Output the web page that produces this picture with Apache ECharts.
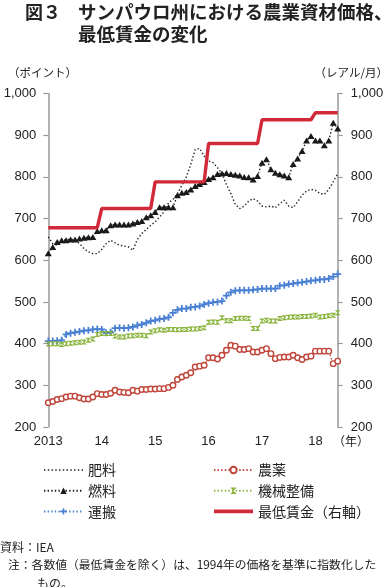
<!DOCTYPE html>
<html><head><meta charset="utf-8">
<script src="https://cdn.jsdelivr.net/npm/echarts@6/dist/echarts.min.js"></script>
<style>html,body{margin:0;padding:0;background:#fff}#c{width:392px;height:587px}</style>
</head><body><div id="c"></div>
<script>
// ---- data ----
const yearLabels = ['2013','14','15','16','17','18'];
const firstYear = 2013;
const monthCount = 66; // Jan 2013 - Jun 2018
const yTicks = [200,300,400,500,600,700,800,900,1000];

const seriesNames = ['肥料','燃料','運搬','農薬','機械整備','最低賃金（右軸）'];

const fertilizer = [656,640,636,644,650,650,648,640,628,620,616,616,626,640,648,642,636,634,632,624,
  650,664,674,684,692,704,716,738,746,760,780,800,830,866,868,850,838,834,822,808,
  782,760,734,724,730,742,748,742,730,728,730,726,736,744,730,726,740,756,766,770,
  768,760,758,770,788,808];
const fuel = [617,632,644,648,648,650,650,652,654,655,656,670,672,672,684,686,686,686,686,688,
  692,694,703,708,716,727,727,727,727,756,762,764,770,778,783,788,795,799,807,808,
  809,807,805,803,800,799,794,802,834,842,818,810,806,803,799,831,844,862,887,898,
  887,887,876,887,930,916];
const transport = [406,406,407,408,422,425,427,429,431,432,434,435,434,426,427,437,438,437,438,440,
  444,446,450,454,456,459,460,463,474,481,484,484,487,488,490,494,497,499,500,502,
  515,523,527,528,528,528,529,530,532,532,532,532,539,540,543,544,546,547,549,551,
  552,554,554,556,561,567];
const pesticide = [258,261,266,268,272,274,274,270,267,267,272,280,278,278,281,288,284,283,282,288,
  286,290,290,291,291,292,292,295,300,314,320,324,330,344,346,348,366,366,363,372,
  384,396,394,386,386,388,380,380,384,388,376,364,367,368,368,372,366,362,368,370,
  382,382,382,382,352,358];
const machinery = [399,400,400,398,400,401,402,403,404,408,411,422,424,424,424,418,416,416,418,419,
  420,420,419,428,431,433,432,434,434,433,434,434,435,435,436,438,451,452,451,462,
  455,455,460,461,461,460,436,436,454,456,454,454,460,462,463,464,464,465,465,466,
  468,464,465,467,468,474];
const minWage = [678,678,678,678,678,678,678,678,678,678,678,678,
  724,724,724,724,724,724,724,724,724,724,724,724,
  788,788,788,788,788,788,788,788,788,788,788,788,
  880,880,880,880,880,880,880,880,880,880,880,880,
  937,937,937,937,937,937,937,937,937,937,937,937,
  954,954,954,954,954,954];

// ---- categories (months) ----
const months = [];
for (let i = 0; i < monthCount; i++) months.push((firstYear + Math.floor(i/12)) + '-' + (i%12+1));

const JP = '"Noto Sans CJK JP"';
const NUM = '"Liberation Sans", Arial, sans-serif';

// legend icon paths (dotted line / thick line)
let dotPath = 'path://';
for (let k = 0; k < 11; k++) dotPath += 'M' + (k*3.6) + ',0h1.4v1.4h-1.4z';
const thickPath = 'path://M0,0H39V3.6H0Z';

const chart = echarts.init(document.getElementById('c'), null, {renderer:'canvas'});

const dotted = (c) => ({color:c, width:1.4, type:[1.4,2.2]});

chart.setOption({
  animation:false,
  backgroundColor:'#fff',
  grid:{left:48.3, right:54.3, top:93.5, bottom:160, containLabel:false},
  xAxis:{
    type:'category', data:months, boundaryGap:false,
    axisLine:{show:false}, axisTick:{show:false}, splitLine:{show:false},
    axisLabel:{
      interval:(idx)=> idx%12===0,
      formatter:(v, idx)=> yearLabels[Math.floor(idx/12)] || '',
      color:'#222', fontFamily:NUM, fontSize:13, margin:8
    }
  },
  yAxis:[
    {type:'value', position:'left', min:200, max:1000, interval:100,
     axisLine:{show:true, lineStyle:{color:'#999', width:1.5}},
     axisTick:{show:true, length:5, inside:false, lineStyle:{color:'#999', width:1.2}},
     splitLine:{show:false},
     axisLabel:{color:'#222', fontFamily:NUM, fontSize:13, margin:12,
       formatter:(v)=> echarts.format.addCommas(v)}},
    {type:'value', position:'right', min:200, max:1000, interval:100,
     axisLine:{show:true, lineStyle:{color:'#999', width:1.5}},
     axisTick:{show:true, length:5, inside:false, lineStyle:{color:'#999', width:1.2}},
     splitLine:{show:false},
     axisLabel:{color:'#222', fontFamily:NUM, fontSize:13, margin:13,
       formatter:(v)=> echarts.format.addCommas(v)}}
  ],
  legend:[
    {data:[{name:seriesNames[0], icon:dotPath}, seriesNames[1], seriesNames[2]],
     orient:'vertical', left:43, top:463, symbolKeepAspect:true,
     itemWidth:39, itemHeight:8, itemGap:6.7, padding:0,
     textStyle:{fontFamily:JP, fontSize:14, color:'#222'}},
    {data:[seriesNames[3], seriesNames[4], {name:seriesNames[5], icon:thickPath}],
     orient:'vertical', left:213, top:463, symbolKeepAspect:true,
     itemWidth:39, itemHeight:8, itemGap:6.7, padding:0,
     textStyle:{fontFamily:JP, fontSize:14, color:'#222'}}
  ],
  series:[
    {name:seriesNames[0], type:'line', data:fertilizer, yAxisIndex:0, symbol:'none',
     lineStyle:dotted('#222'), itemStyle:{color:'#222'}, z:3},
    {name:seriesNames[1], type:'line', data:fuel, yAxisIndex:0, symbol:'triangle', symbolSize:[7,6],
     showAllSymbol:true, lineStyle:dotted('#222'), itemStyle:{color:'#1a1a1a'}, z:4},
    {name:seriesNames[2], type:'line', data:transport, yAxisIndex:0,
     symbol:'path://M3,0H5V3H8V5H5V8H3V5H0V3H3Z', symbolSize:7, showAllSymbol:true,
     lineStyle:dotted('#4a80d4'), itemStyle:{color:'#4a80d4'}, z:4},
    {name:seriesNames[3], type:'line', data:pesticide, yAxisIndex:0, symbol:'circle', symbolSize:5.5,
     showAllSymbol:true, lineStyle:dotted('#c0453a'),
     itemStyle:{color:'#fff', borderColor:'#c0453a', borderWidth:1.4}, z:4},
    {name:seriesNames[4], type:'line', data:machinery, yAxisIndex:0,
     symbol:'path://M0,0L10,0L0,10L10,10Z', symbolSize:[6,5], showAllSymbol:true,
     lineStyle:dotted('#8ab43e'), itemStyle:{color:'#8ab43e'}, z:4},
    {name:seriesNames[5], type:'line', data:minWage, yAxisIndex:1, symbol:'none',
     lineStyle:{color:'#d1283a', width:3.4}, itemStyle:{color:'#d1283a'}, z:5}
  ],
  graphic:[
    {type:'text', x:25, y:12, style:{text:'図３', fontFamily:JP, fontWeight:'bold', fontSize:18, fill:'#222', verticalAlign:'middle'}},
    {type:'text', x:78, y:12, style:{text:'サンパウロ州における農業資材価格、', fontFamily:JP, fontWeight:'bold', fontSize:18.5, fill:'#222', verticalAlign:'middle'}},
    {type:'text', x:78, y:34, style:{text:'最低賃金の変化', fontFamily:JP, fontWeight:'bold', fontSize:18.5, fill:'#222', verticalAlign:'middle'}},
    {type:'text', x:8, y:73, style:{text:'（ポイント）', fontFamily:JP, fontSize:11.5, fill:'#222', verticalAlign:'middle'}},
    {type:'text', x:388, y:73, style:{text:'（レアル/月）', fontFamily:JP, fontSize:11.5, fill:'#222', verticalAlign:'middle', align:'right'}},
    {type:'text', x:333, y:441.5, style:{text:'（年）', fontFamily:JP, fontSize:12, fill:'#222', verticalAlign:'middle'}},
    {type:'text', x:0, y:547, style:{text:'資料：IEA', fontFamily:JP, fontSize:12, fill:'#222', verticalAlign:'middle'}},
    {type:'text', x:8, y:565, style:{text:'注：各数値（最低賃金を除く）は、1994年の価格を基準に指数化した', fontFamily:JP, fontSize:11.8, fill:'#222', verticalAlign:'middle'}},
    {type:'text', x:37, y:583, style:{text:'もの。', fontFamily:JP, fontSize:12, fill:'#222', verticalAlign:'middle'}}
  ]
});
</script></body></html>
